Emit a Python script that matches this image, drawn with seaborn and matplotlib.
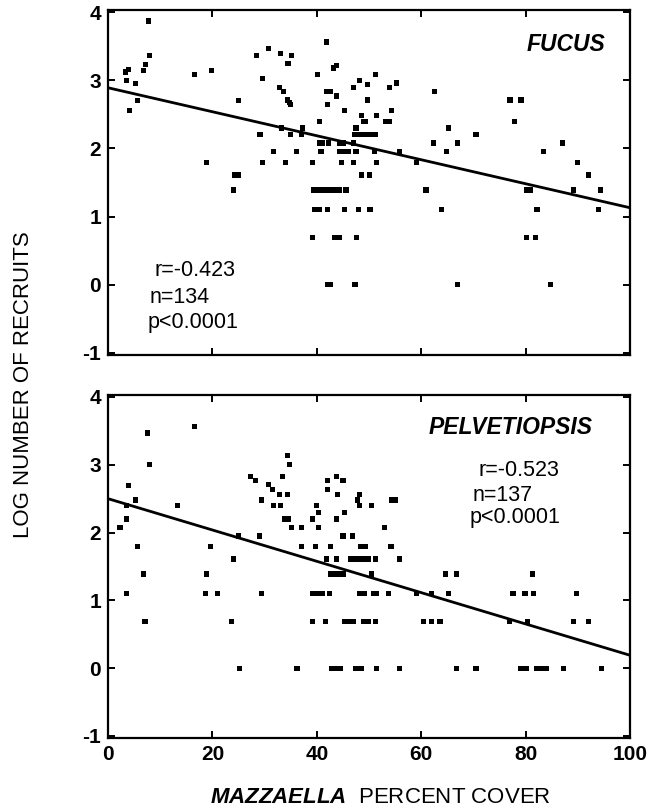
import numpy as np
import matplotlib
matplotlib.use("Agg")
import matplotlib.pyplot as plt
import seaborn as sns

# Fucus recruits vs Mazzaella cover (top panel)
fucus_x = [7.7, 3.9, 3.4, 6.8, 7.2, 8.0, 3.6, 5.2, 4.1, 5.7, 16.5, 19.9, 25.0, 18.9, 24.3, 25.0, 24.0,
           28.4, 30.8, 33.0, 35.2, 34.5, 29.6, 32.8, 33.6, 34.4, 34.7, 35.0, 29.1, 33.3, 34.9, 37.1,
           37.2, 31.7, 36.1, 29.6, 34.0, 39.1, 41.8, 40.2, 43.2, 43.8, 41.9, 42.7, 43.8, 42.1, 45.3,
           40.5, 40.6, 41.1, 42.2, 44.3, 45.1, 47.0, 40.8, 44.3, 45.1, 46.0, 47.5, 44.8, 47.0, 47.0,
           48.2, 49.7, 49.7, 48.6, 48.9, 49.4, 47.5, 47.3, 48.3, 49.2, 50.2, 51.2, 51.5, 51.2, 48.5,
           50.1, 51.5,
           39.3, 40.3, 41.1, 41.9, 42.7, 43.5, 44.3, 45.6,
           39.5, 40.5, 42.1, 45.3, 48.0, 50.2,
           39.1, 43.5, 44.3, 47.6,
           42.1, 42.7, 47.3,
           53.9, 55.2, 54.3, 53.1, 54.0, 51.0, 55.8, 59.1, 60.9, 62.5, 62.3, 64.9, 65.2, 66.9, 63.9,
           66.9, 70.5, 77.0, 79.1, 77.8, 80.2, 81.0, 82.2, 80.2, 81.9, 84.7, 83.4, 87.1, 90.0, 92.0,
           89.2, 94.4, 93.9]
fucus_y = [3.87, 3.16, 3.12, 3.14, 3.23, 3.36, 3.00, 2.95, 2.56, 2.70, 3.09, 3.14, 2.70, 1.79, 1.61, 1.61, 1.39,
           3.36, 3.47, 3.39, 3.36, 3.25, 3.03, 2.89, 2.83, 2.71, 2.67, 2.64, 2.20, 2.30, 2.20, 2.20,
           2.30, 1.95, 1.95, 1.79, 1.79, 1.79, 3.56, 3.09, 3.18, 3.22, 2.83, 2.83, 2.77, 2.64, 2.56,
           2.40, 2.08, 2.08, 2.08, 2.08, 2.08, 2.08, 1.95, 1.95, 1.95, 1.95, 1.95, 1.79, 1.79, 2.89,
           3.00, 2.94, 2.71, 2.48, 2.40, 2.40, 2.30, 2.20, 2.20, 2.20, 2.20, 2.20, 2.48, 3.09, 1.61,
           1.61, 1.79,
           1.39, 1.39, 1.39, 1.39, 1.39, 1.39, 1.39, 1.39,
           1.10, 1.10, 1.10, 1.10, 1.10, 1.10,
           0.69, 0.69, 0.69, 0.69,
           0.0, 0.0, 0.0,
           2.89, 2.96, 2.56, 2.40, 2.40, 1.95, 1.95, 1.79, 1.39, 2.83, 2.08, 1.95, 2.30, 2.08, 1.10,
           0.0, 2.20, 2.71, 2.71, 2.40, 1.39, 1.39, 1.10, 0.69, 0.69, 0.0, 1.95, 2.08, 1.79, 1.61,
           1.39, 1.39, 1.10]

# Pelvetiopsis recruits vs Mazzaella cover (bottom panel)
pelv_x = [7.6, 7.9, 16.5, 3.9, 5.2, 3.6, 3.6, 2.3, 5.6, 6.8, 3.6, 7.1, 13.3, 19.7, 18.9, 18.6, 20.9,
          24.1, 25.0, 23.7, 27.3, 28.2, 30.7, 31.5, 32.8, 34.4, 33.5, 34.4, 34.7, 29.4, 31.7, 33.1,
          29.0, 33.9, 34.5, 35.2, 37.1, 29.4, 37.1, 39.1, 40.0, 40.4, 40.4, 39.7, 42.0, 43.7, 45.0,
          42.0, 44.0, 43.7, 45.3, 42.7, 41.9, 43.7, 42.7, 43.5, 44.3, 45.1, 45.0, 46.8,
          46.4, 47.3, 48.1, 48.9, 49.9, 51.2, 47.8, 48.2, 48.2, 50.5, 48.3, 49.4, 50.5,
          39.1, 40.1, 41.1, 42.5, 48.2, 49.2, 50.8,
          39.1, 41.6, 45.3, 46.2, 47.0, 49.0, 49.9, 51.2,
          54.4, 55.0, 52.9, 54.2, 55.8, 51.5, 53.7, 59.1, 62.0, 65.2, 64.7, 66.7, 60.4, 62.0, 63.6,
          77.6, 79.9, 81.5, 81.3, 76.9, 80.4, 89.8, 89.1, 92.0,
          25.2, 36.2, 42.9, 43.7, 44.6, 47.5, 48.5, 51.5, 55.9, 66.8, 70.5, 79.1, 80.1, 82.1, 83.0,
          83.9, 87.2, 94.6]
pelv_y = [3.47, 3.00, 3.56, 2.69, 2.48, 2.40, 2.20, 2.08, 1.79, 1.39, 1.10, 0.69, 2.40, 1.79, 1.39, 1.10, 1.10,
          1.61, 1.95, 0.69, 2.83, 2.77, 2.71, 2.64, 2.56, 2.56, 2.83, 3.14, 3.00, 2.48, 2.40, 2.40,
          1.95, 2.20, 2.20, 2.08, 2.08, 1.10, 1.79, 2.20, 2.40, 2.30, 2.08, 1.79, 2.77, 2.83, 2.77,
          2.64, 2.56, 2.20, 2.30, 1.79, 1.61, 1.61, 1.39, 1.39, 1.39, 1.39, 1.95, 1.95,
          1.61, 1.61, 1.61, 1.61, 1.61, 1.61, 2.48, 2.56, 2.40, 2.40, 1.79, 1.79, 1.39,
          1.10, 1.10, 1.10, 1.10, 1.10, 1.10, 1.10,
          0.69, 0.69, 0.69, 0.69, 0.69, 0.69, 0.69, 0.69,
          2.48, 2.48, 2.08, 1.79, 1.61, 1.10, 1.10, 1.10, 1.10, 1.10, 1.39, 1.39, 0.69, 0.69, 0.69,
          1.10, 1.10, 1.10, 1.39, 0.69, 0.69, 1.10, 0.69, 0.69,
          0.0, 0.0, 0.0, 0.0, 0.0, 0.0, 0.0, 0.0, 0.0, 0.0, 0.0, 0.0, 0.0, 0.0, 0.0,
          0.0, 0.0, 0.0]

# regression lines (intercept, slope)
fucus_fit = (2.89, -0.0176)
pelv_fit = (2.50, -0.0231)
fit_x = np.array([0, 100])

fucus_stats = ["r=-0.423", "n=134", "p<0.0001"]
pelv_stats = ["r=-0.523", "n=137", "p<0.0001"]

sns.set_theme(style="ticks")
plt.rcParams['font.family'] = ['Liberation Sans', 'DejaVu Sans']
plt.rcParams['mathtext.fontset'] = 'custom'
plt.rcParams['mathtext.it'] = 'Liberation Sans:italic:bold'
plt.rcParams['mathtext.rm'] = 'Liberation Sans'
plt.rcParams['axes.unicode_minus'] = False
plt.rcParams['text.color'] = 'black'

fig = plt.figure(figsize=(6.59, 8.09), dpi=100)
ax1 = fig.add_axes([0.1639, 0.5612, 0.7921, 0.4264])
ax2 = fig.add_axes([0.1639, 0.0878, 0.7921, 0.4240])


def draw_panel(ax, xs, ys, fit, name, stats, name_pos, stats_pos):
    sns.scatterplot(x=xs, y=ys, ax=ax, color='black', marker='s', s=14,
                    edgecolor='none', linewidth=0)
    sns.lineplot(x=fit_x, y=fit[0] + fit[1] * fit_x, ax=ax, color='black', lw=2.0)
    ax.set_xlim(0, 100)
    ax.set_ylim(-1.03, 4.03)
    ax.set_xticks([0, 20, 40, 60, 80, 100])
    ax.set_yticks([-1, 0, 1, 2, 3, 4])
    ax.tick_params(direction='in', length=5, width=1.4, top=True, right=True,
                   labelsize=15, colors='black', pad=5)
    for lab in ax.get_xticklabels() + ax.get_yticklabels():
        lab.set_fontweight('bold')
    for sp in ax.spines.values():
        sp.set_linewidth(1.6)
        sp.set_color('black')
    ax.text(name_pos[0], name_pos[1], name, transform=ax.transAxes, ha='center', va='center',
            fontsize=16.5, fontweight='bold', fontstyle='italic', color='black')
    for (sx, sy), s in zip(stats_pos, stats):
        ax.text(sx, sy, s, transform=ax.transAxes, ha='left', va='center', fontsize=15.5,
                color='black')


draw_panel(ax1, fucus_x, fucus_y, fucus_fit, "FUCUS", fucus_stats,
           (0.877, 0.901), [(0.090, 0.246), (0.080, 0.168), (0.075, 0.093)])
draw_panel(ax2, pelv_x, pelv_y, pelv_fit, "PELVETIOPSIS", pelv_stats,
           (0.772, 0.904), [(0.709, 0.781), (0.699, 0.708), (0.693, 0.644)])
ax1.set_xticklabels([])

fig.text(0.036, 0.524, "LOG NUMBER OF RECRUITS", rotation=90, ha='center', va='center',
         fontsize=16, color='black')
fig.text(0.578, 0.0136, r"$\it{MAZZAELLA}$  PERCENT COVER", ha='center', va='center',
         fontsize=16, color='black')

fig.savefig("out.png", dpi=100)
